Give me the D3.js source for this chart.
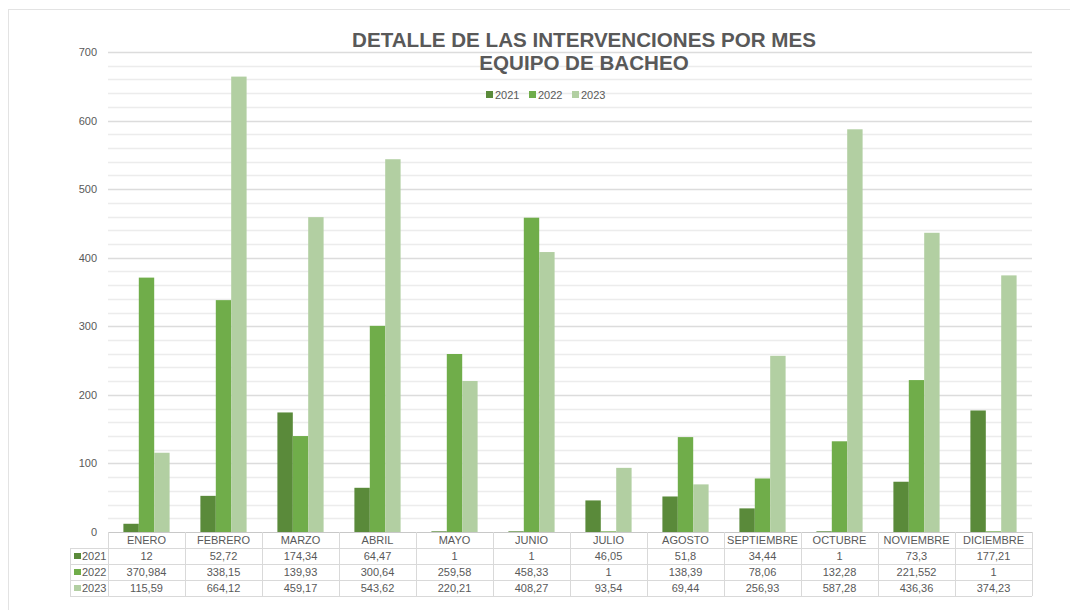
<!DOCTYPE html>
<html>
<head>
<meta charset="utf-8">
<script src="https://cdn.jsdelivr.net/npm/d3@7"></script>
<style>
  body { margin: 0; background: #fff; }
  svg { font-family: "Liberation Sans", Arial, sans-serif; }
</style>
</head>
<body>
<div id="chart"></div>
<script>
var months = ["ENERO", "FEBRERO", "MARZO", "ABRIL", "MAYO", "JUNIO", "JULIO", "AGOSTO", "SEPTIEMBRE", "OCTUBRE", "NOVIEMBRE", "DICIEMBRE"];
var years = ["2021", "2022", "2023"];
var v2021 = [12, 52.72, 174.34, 64.47, 1, 1, 46.05, 51.8, 34.44, 1, 73.3, 177.21];
var v2022 = [370.984, 338.15, 139.93, 300.64, 259.58, 458.33, 1, 138.39, 78.06, 132.28, 221.552, 1];
var v2023 = [115.59, 664.12, 459.17, 543.62, 220.21, 408.27, 93.54, 69.44, 256.93, 587.28, 436.36, 374.23];
var yTicks = [0, 100, 200, 300, 400, 500, 600, 700];

var series = [v2021, v2022, v2023];
var colors = ["#5a8a3a", "#70ad4a", "#b2cfa2"];

var width = 1070;
var height = 610;
var plotLeft = 108, plotRight = 1032, plotTop = 52, plotBottom = 532;
var rowH = 16;

var svg = d3.select("#chart").append("svg")
    .attr("width", width)
    .attr("height", height);

// chart frame
svg.append("rect")
    .attr("x", 8.5).attr("y", 9.5)
    .attr("width", 1070).attr("height", 610)
    .attr("fill", "none")
    .attr("stroke", "#e3e3e3");

var x = d3.scaleBand().domain(months).range([plotLeft, plotRight]);
var xs = d3.scaleBand().domain(years).range([0, x.bandwidth()]).paddingOuter(1.0);
var y = d3.scaleLinear().domain([0, 700]).range([plotBottom, plotTop]);

// gridlines every 20
var grid = d3.range(20, 701, 20);
svg.append("g").selectAll("line")
    .data(grid)
    .enter().append("line")
    .attr("x1", plotLeft).attr("x2", plotRight)
    .attr("y1", d => Math.round(y(d)) + 0.5)
    .attr("y2", d => Math.round(y(d)) + 0.5)
    .attr("stroke", d => d % 100 === 0 ? "#dcdcdc" : "#ececec")
    .attr("stroke-width", 1.5);

// y axis labels
svg.append("g").selectAll("text")
    .data(yTicks)
    .enter().append("text")
    .attr("x", 97)
    .attr("y", d => y(d) + 4)
    .attr("text-anchor", "end")
    .attr("font-size", 11)
    .attr("fill", "#595959")
    .text(d => d);

// bars
var groups = svg.append("g").selectAll("g")
    .data(months)
    .enter().append("g")
    .attr("transform", d => "translate(" + x(d) + ",0)");

groups.selectAll("rect")
    .data((m, i) => series.map((s, j) => ({ year: years[j], value: s[i], color: colors[j] })))
    .enter().append("rect")
    .attr("x", d => xs(d.year))
    .attr("width", xs.bandwidth())
    .attr("y", d => y(d.value))
    .attr("height", d => plotBottom - y(d.value))
    .attr("fill", d => d.color);

// title
svg.append("text")
    .attr("x", 584).attr("y", 47)
    .attr("text-anchor", "middle")
    .attr("font-size", 20.6).attr("font-weight", "bold")
    .attr("fill", "#595959")
    .text("DETALLE DE LAS INTERVENCIONES POR MES");
svg.append("text")
    .attr("x", 584).attr("y", 70)
    .attr("text-anchor", "middle")
    .attr("font-size", 20.6).attr("font-weight", "bold")
    .attr("fill", "#595959")
    .text("EQUIPO DE BACHEO");

// legend
var legend = svg.append("g").selectAll("g")
    .data(years)
    .enter().append("g")
    .attr("transform", (d, i) => "translate(" + (486 + i * 43) + ",95)");
legend.append("rect")
    .attr("x", 0).attr("y", -4)
    .attr("width", 7).attr("height", 7)
    .attr("fill", (d, i) => colors[i]);
legend.append("text")
    .attr("x", 9).attr("y", 3.5)
    .attr("font-size", 11)
    .attr("fill", "#595959")
    .text(d => d);

// data table
var fmt = v => String(v).replace(".", ",");
var table = svg.append("g");
var lineColor = "#d9d9d9";

// horizontal lines
[plotBottom + rowH, plotBottom + 2 * rowH, plotBottom + 3 * rowH, plotBottom + 4 * rowH].forEach(function (yy) {
    table.append("line")
        .attr("x1", 70).attr("x2", plotRight)
        .attr("y1", yy + 0.5).attr("y2", yy + 0.5)
        .attr("stroke", lineColor);
});
table.append("line")
    .attr("x1", plotLeft).attr("x2", plotRight)
    .attr("y1", plotBottom + 0.5).attr("y2", plotBottom + 0.5)
    .attr("stroke", "#c8c8c8");
table.append("line")
    .attr("x1", 70.5).attr("x2", 70.5)
    .attr("y1", plotBottom + rowH).attr("y2", plotBottom + 4 * rowH)
    .attr("stroke", lineColor);

// vertical lines
table.selectAll(".vline")
    .data(months.map(m => x(m)).concat([plotRight]))
    .enter().append("line")
    .attr("class", "vline")
    .attr("x1", d => Math.round(d) + 0.5).attr("x2", d => Math.round(d) + 0.5)
    .attr("y1", plotBottom).attr("y2", plotBottom + 4 * rowH)
    .attr("stroke", lineColor);

// month headers
table.selectAll(".month")
    .data(months)
    .enter().append("text")
    .attr("class", "month")
    .attr("x", d => x(d) + x.bandwidth() / 2)
    .attr("y", plotBottom + 12)
    .attr("text-anchor", "middle")
    .attr("font-size", 11)
    .attr("fill", "#595959")
    .text(d => d);

// series rows
series.forEach(function (s, j) {
    var ry = plotBottom + (j + 1) * rowH;
    table.append("rect")
        .attr("x", 74).attr("y", ry + 5)
        .attr("width", 7).attr("height", 6)
        .attr("fill", colors[j]);
    table.append("text")
        .attr("x", 82).attr("y", ry + 12)
        .attr("font-size", 11)
        .attr("fill", "#595959")
        .text(years[j]);
    table.selectAll(".val" + j)
        .data(s)
        .enter().append("text")
        .attr("class", "val" + j)
        .attr("x", (d, i) => x(months[i]) + x.bandwidth() / 2)
        .attr("y", ry + 12)
        .attr("text-anchor", "middle")
        .attr("font-size", 11)
        .attr("fill", "#595959")
        .text(d => fmt(d));
});
</script>
</body>
</html>
